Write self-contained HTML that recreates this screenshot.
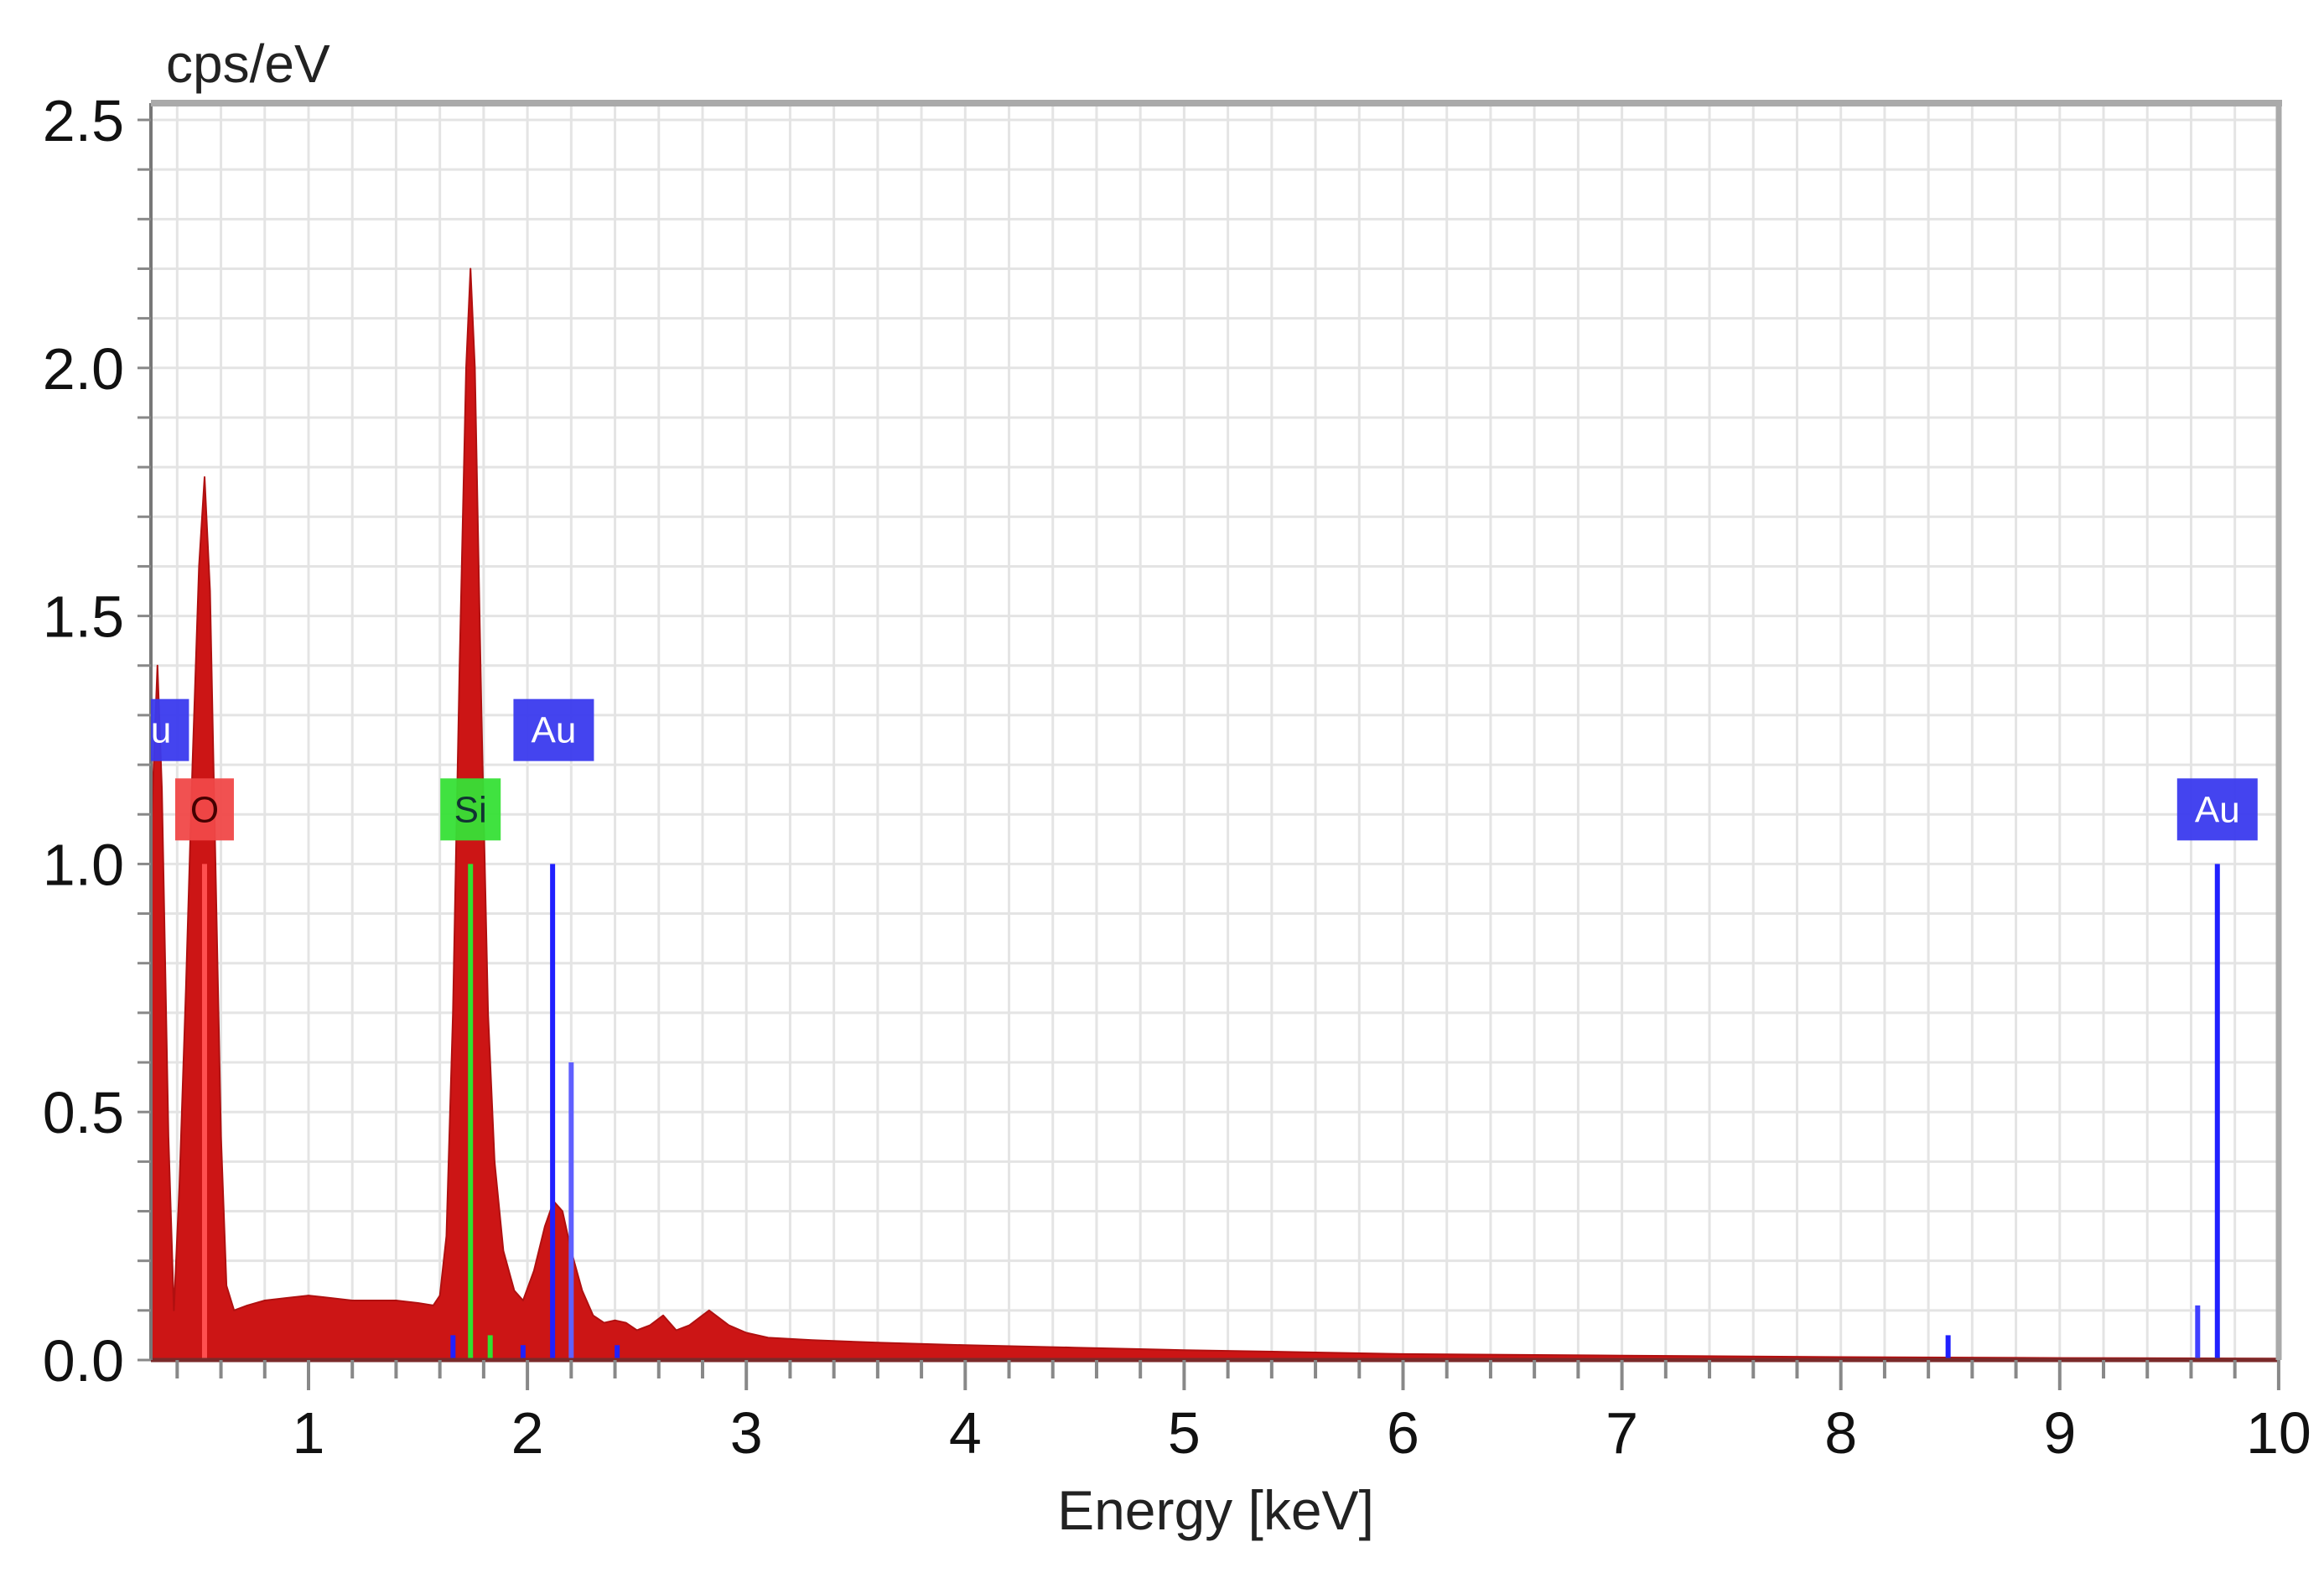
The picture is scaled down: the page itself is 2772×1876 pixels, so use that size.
<!DOCTYPE html>
<html><head><meta charset="utf-8"><style>
html,body{margin:0;padding:0;background:#fff;}
svg{display:block;font-family:"Liberation Sans",sans-serif;}
</style></head><body>
<svg id="chart" width="2772" height="1876" viewBox="0 0 2772 1876" xmlns="http://www.w3.org/2000/svg">
<rect width="2772" height="1876" fill="#fff"/>
<g id="grid"></g>
<g id="spec"></g>
<g id="lines"></g>
<g id="axes"></g>
<g id="labels"></g>
<text x="198" y="98" font-size="64" fill="#222">cps/eV</text>
<text x="1450" y="1824" font-size="66" fill="#222" text-anchor="middle">Energy [keV]</text>
</svg>
<script>
const energy=[0.28,0.31,0.33,0.36,0.385,0.41,0.44,0.47,0.50,0.525,0.55,0.575,0.60,0.625,0.66,0.72,0.8,0.9,1.0,1.1,1.2,1.3,1.4,1.5,1.57,1.60,1.63,1.66,1.69,1.72,1.74,1.76,1.79,1.82,1.85,1.89,1.94,1.98,2.03,2.08,2.12,2.16,2.20,2.25,2.30,2.35,2.40,2.45,2.50,2.56,2.62,2.68,2.74,2.83,2.92,3.0,3.1,3.3,3.6,4.0,4.5,5.0,5.5,6.0,7.0,8.0,9.0,10.0];
const counts=[1.05,1.4,1.15,0.45,0.1,0.35,0.75,1.2,1.6,1.78,1.55,1.0,0.45,0.15,0.1,0.11,0.12,0.125,0.13,0.125,0.12,0.12,0.12,0.115,0.11,0.13,0.25,0.7,1.4,2.0,2.2,2.0,1.3,0.7,0.4,0.22,0.14,0.12,0.18,0.27,0.32,0.3,0.22,0.14,0.09,0.075,0.08,0.075,0.06,0.07,0.09,0.06,0.07,0.1,0.07,0.055,0.045,0.04,0.035,0.03,0.025,0.02,0.016,0.012,0.009,0.006,0.004,0.003];
const lineE=[0.525,1.66,1.74,1.83,1.98,2.115,2.20,2.41,8.49,9.63,9.72];
const lineH=[1.0,0.05,1.0,0.05,0.03,1.0,0.6,0.03,0.05,0.11,1.0];
const lineC=["#ff5050","#2020ff","#30e030","#30e030","#2020ff","#2020ff","#6060ff","#2020ff","#2020ff","#4040ff","#2020ff"];
const labelText=["Au","O","Si","Au","Au"];
const labelE=[0.27,0.525,1.74,2.12,9.72];
const labelV=[1.27,1.11,1.11,1.27,1.11];
const labelW=[96,70,72,96,96];
const labelFill=["#3a3aee","#f04848","#36e036","#3a3aee","#3a3aee"];
const labelInk=["#fff","#400","#133","#fff","#fff"];
const yTicks=["0.0","0.5","1.0","1.5","2.0","2.5"];
const xTicks=["1","2","3","4","5","6","7","8","9","10"];
const L=180,R=2718,T=123,B=1622;
const X=e=>368+(e-1)*261.1;
const Y=v=>B-v*591.6;
const ns="http://www.w3.org/2000/svg";
function mk(tag,attrs,parent){const el=document.createElementNS(ns,tag);for(const k in attrs)el.setAttribute(k,attrs[k]);parent.appendChild(el);return el;}
const grid=document.getElementById('grid'),axes=document.getElementById('axes'),spec=document.getElementById('spec'),lines=document.getElementById('lines'),labels=document.getElementById('labels');
for(let i=1;i<=25;i++){const y=Y(i*0.1);const g=mk('line',{x1:L,x2:R,y1:y,y2:y,stroke:'#e4e4e4','stroke-width':3},grid);}
for(let i=2;i<=50;i++){const e=i*0.2;const x=X(e);if(x<=L+2)continue;const g=mk('line',{x1:x,x2:x,y1:T,y2:B,stroke:'#e4e4e4','stroke-width':3},grid);}
let d='M'+X(energy[0])+','+B;
for(let i=0;i<energy.length;i++)d+=' L'+X(energy[i]).toFixed(1)+','+Y(counts[i]).toFixed(1);
d+=' L'+X(energy[energy.length-1])+','+B+' Z';
const p=mk('path',{d:d,fill:'#cc1515',stroke:'#b01010','stroke-width':2,'stroke-linejoin':'round'},spec);

for(let i=0;i<lineE.length;i++){const x=X(lineE[i]);const l=mk('line',{x1:x,x2:x,y1:B,y2:Y(lineH[i]),stroke:lineC[i],'stroke-width':6},lines);}
const bl=mk('line',{x1:L,x2:R,y1:B,y2:B,stroke:'#7a2a2a','stroke-width':5},axes);
const la=mk('line',{x1:L,x2:L,y1:T,y2:B,stroke:'#777','stroke-width':4},axes);
const tb=mk('line',{x1:L,x2:R+4,y1:T,y2:T,stroke:'#aaa','stroke-width':8},axes);
const rb=mk('line',{x1:R,x2:R,y1:T,y2:B,stroke:'#aaa','stroke-width':7},axes);
for(let i=0;i<=25;i++){const y=Y(i*0.1);const t=mk('line',{x1:L-16,x2:L,y1:y,y2:y,stroke:'#888','stroke-width':3},axes);}
for(let i=2;i<=50;i++){const e=i*0.2;const x=X(e);const maj=(i%5===0);const t=mk('line',{x1:x,x2:x,y1:B,y2:B+(maj?36:22),stroke:'#888','stroke-width':4},axes);}
yTicks.forEach(s=>{const t=mk('text',{x:148,y:Y(parseFloat(s))+25,'font-size':70,'text-anchor':'end',fill:'#111'},axes);t.textContent=s;});
xTicks.forEach(s=>{const t=mk('text',{x:X(parseFloat(s)),y:1733,'font-size':70,'text-anchor':'middle',fill:'#111'},axes);t.textContent=s;});
const clip=mk('clipPath',{id:'pc'},labels);mk('rect',{x:L,y:T,width:R-L,height:B-T},clip);
const lg=mk('g',{'clip-path':'url(#pc)'},labels);
for(let i=0;i<labelText.length;i++){const w=labelW[i];const cx=X(labelE[i]),cy=Y(labelV[i]);
const g=mk('g',{},lg);
mk('rect',{x:cx-w/2,y:cy-37,width:w,height:74,fill:labelFill[i],opacity:0.95},g);
const t=mk('text',{x:cx,y:cy+15,'font-size':44,'text-anchor':'middle',fill:labelInk[i]},g);t.textContent=labelText[i];}
</script>
</body></html>
